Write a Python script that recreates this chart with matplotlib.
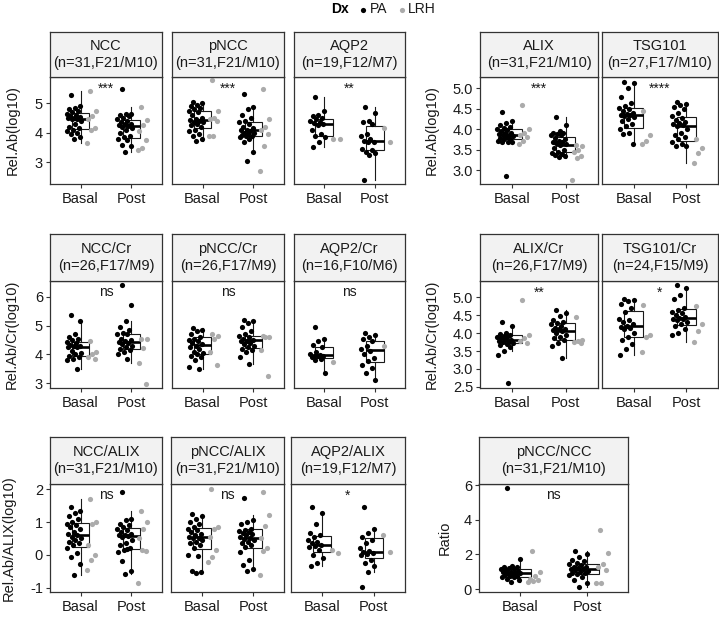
import matplotlib
matplotlib.use("Agg")
import matplotlib.pyplot as plt
from matplotlib.ticker import FormatStrFormatter

plt.rcParams['font.family'] = ['Liberation Sans', 'DejaVu Sans']

# ---- values: (Basal PA, Basal LRH, Post PA, Post LRH) ----
ncc_b_pa = [5.28, 4.9, 4.85, 4.8, 4.75, 4.7, 4.65, 4.6, 4.55, 4.52, 4.5, 4.5, 4.48, 4.45, 4.4, 4.3, 4.2, 4.15, 4.1, 4.05, 4.0, 3.95, 3.85, 3.8]
ncc_b_lrh = [5.42, 4.75, 4.55, 4.45, 4.15, 4.1, 3.65]
ncc_p_pa = [5.48, 4.65, 4.62, 4.6, 4.55, 4.5, 4.45, 4.4, 4.35, 4.3, 4.28, 4.25, 4.22, 4.2, 4.15, 4.1, 4.0, 3.9, 3.85, 3.8, 3.75, 3.6, 3.55, 3.33]
ncc_p_lrh = [4.88, 4.42, 4.25, 4.05, 3.75, 3.48, 3.43]

pncc_b_pa = [5.05, 5.02, 4.95, 4.9, 4.85, 4.8, 4.75, 4.7, 4.6, 4.5, 4.45, 4.42, 4.4, 4.38, 4.35, 4.3, 4.25, 4.2, 4.1, 4.05, 3.95, 3.9, 3.8, 3.72]
pncc_b_lrh = [5.78, 4.75, 4.5, 4.45, 4.4, 3.9, 3.88]
pncc_p_pa = [5.3, 4.88, 4.82, 4.6, 4.5, 4.4, 4.35, 4.3, 4.2, 4.15, 4.1, 4.08, 4.05, 4.0, 3.98, 3.95, 3.92, 3.9, 3.88, 3.85, 3.8, 3.7, 3.33, 3.05]
pncc_p_lrh = [5.48, 4.48, 4.2, 4.1, 3.95, 3.55, 2.7]

aqp2_b_pa = [5.22, 4.72, 4.6, 4.55, 4.5, 4.45, 4.4, 4.35, 4.32, 4.3, 4.25, 4.1, 3.95, 3.9, 3.85, 3.7, 3.53]
aqp2_b_lrh = [3.8, 3.78]
aqp2_p_pa = [4.86, 4.66, 4.41, 4.35, 4.3, 3.95, 3.9, 3.8, 3.72, 3.7, 3.68, 3.45, 3.4, 3.35, 3.3, 3.25, 2.4]
aqp2_p_lrh = [4.17, 3.7]

alix_b_pa = [4.43, 4.2, 4.15, 4.1, 4.05, 4.02, 4.0, 3.98, 3.95, 3.92, 3.9, 3.88, 3.87, 3.85, 3.83, 3.8, 3.78, 3.76, 3.75, 3.72, 3.7, 3.7, 3.68, 2.86]
alix_b_lrh = [4.6, 4.0, 3.92, 3.85, 3.8, 3.72, 3.65]
alix_p_pa = [4.3, 4.1, 3.95, 3.9, 3.9, 3.88, 3.87, 3.86, 3.78, 3.75, 3.72, 3.7, 3.68, 3.66, 3.65, 3.62, 3.55, 3.5, 3.45, 3.42, 3.4, 3.38, 3.35, 3.32]
alix_p_lrh = [3.62, 3.58, 3.5, 3.45, 3.35, 3.3, 2.76]

tsg_b_pa = [5.16, 5.14, 5.02, 4.8, 4.65, 4.58, 4.52, 4.5, 4.45, 4.4, 4.38, 4.36, 4.35, 4.33, 4.3, 4.25, 4.2, 4.12, 4.08, 4.0, 3.92, 3.88, 3.63]
tsg_b_lrh = [4.45, 3.85, 3.72, 3.65]
tsg_p_pa = [4.67, 4.63, 4.6, 4.55, 4.5, 4.4, 4.32, 4.28, 4.22, 4.18, 4.15, 4.12, 4.1, 4.08, 4.0, 3.92, 3.85, 3.8, 3.75, 3.7, 3.65, 3.6, 3.58]
tsg_p_lrh = [3.75, 3.55, 3.42, 3.18]

nccc_b_pa = [5.36, 5.15, 4.7, 4.6, 4.55, 4.5, 4.42, 4.38, 4.32, 4.28, 4.28, 4.26, 4.25, 4.12, 4.05, 4.0, 3.95, 3.9, 3.85, 3.8, 3.48]
nccc_b_lrh = [4.45, 4.1, 4.02, 3.9, 3.85]
nccc_p_pa = [6.4, 5.7, 5.15, 4.95, 4.85, 4.75, 4.72, 4.7, 4.55, 4.5, 4.45, 4.42, 4.4, 4.35, 4.3, 4.25, 4.2, 4.15, 4.1, 4.0, 3.85]
nccc_p_lrh = [4.55, 4.52, 4.22, 3.7, 2.97]

pnccc_b_pa = [4.9, 4.85, 4.8, 4.7, 4.6, 4.55, 4.5, 4.45, 4.4, 4.35, 4.3, 4.25, 4.2, 4.1, 4.05, 4.0, 3.95, 3.9, 3.8, 3.55, 3.5]
pnccc_b_lrh = [4.7, 4.65, 4.55, 4.1, 3.65]
pnccc_p_pa = [5.2, 5.15, 5.1, 4.95, 4.8, 4.7, 4.65, 4.6, 4.55, 4.5, 4.48, 4.45, 4.4, 4.35, 4.3, 4.25, 4.2, 4.15, 4.1, 3.9, 3.68]
pnccc_p_lrh = [4.65, 4.62, 4.6, 4.15, 3.25]

aqp2c_b_pa = [4.96, 4.52, 4.48, 4.32, 4.25, 4.1, 4.02, 3.98, 3.96, 3.95, 3.93, 3.9, 3.86, 3.82, 3.35]
aqp2c_b_lrh = [3.75]
aqp2c_p_pa = [4.75, 4.68, 4.6, 4.52, 4.45, 4.3, 4.2, 4.12, 4.02, 3.88, 3.78, 3.65, 3.52, 3.35, 3.1]
aqp2c_p_lrh = [4.29]

alixc_b_pa = [4.3, 4.2, 4.0, 3.98, 3.95, 3.92, 3.9, 3.88, 3.85, 3.82, 3.8, 3.78, 3.76, 3.74, 3.72, 3.7, 3.68, 3.6, 3.5, 3.38, 2.6]
alixc_b_lrh = [4.93, 3.95, 3.85, 3.78, 3.72]
alixc_p_pa = [4.65, 4.55, 4.48, 4.35, 4.3, 4.28, 4.25, 4.2, 4.15, 4.12, 4.1, 4.08, 4.05, 4.0, 3.95, 3.9, 3.85, 3.8, 3.72, 3.65, 3.3]
alixc_p_lrh = [4.45, 3.82, 3.78, 3.75, 3.72]

tsgc_b_pa = [4.95, 4.93, 4.9, 4.8, 4.7, 4.6, 4.4, 4.35, 4.3, 4.25, 4.2, 4.18, 4.15, 4.1, 4.0, 3.9, 3.8, 3.7, 3.55, 3.38]
tsgc_b_lrh = [4.78, 3.95, 3.88, 3.48]
tsgc_p_pa = [5.35, 5.25, 5.05, 4.95, 4.7, 4.65, 4.6, 4.55, 4.5, 4.45, 4.42, 4.4, 4.38, 4.35, 4.3, 4.25, 4.2, 4.1, 4.0, 3.95]
tsgc_p_lrh = [4.75, 4.25, 4.05, 3.75]

ncca_b_pa = [1.45, 1.35, 1.28, 1.2, 1.1, 1.0, 0.95, 0.9, 0.85, 0.8, 0.7, 0.65, 0.6, 0.55, 0.5, 0.45, 0.4, 0.35, 0.3, 0.2, 0.05, -0.05, -0.28, -0.62]
ncca_b_lrh = [1.7, 1.0, 0.95, 0.3, 0.0, -0.15, -0.47]
ncca_p_pa = [1.92, 1.1, 1.05, 0.95, 0.9, 0.85, 0.8, 0.75, 0.7, 0.65, 0.62, 0.6, 0.58, 0.55, 0.45, 0.35, 0.3, 0.2, 0.15, 0.1, 0.18, -0.2, -0.5, -0.57]
ncca_p_lrh = [1.35, 1.0, 0.78, 0.5, 0.12, 0.15, -0.85]

pncca_b_pa = [1.25, 1.2, 1.1, 1.0, 0.95, 0.85, 0.8, 0.75, 0.7, 0.65, 0.6, 0.55, 0.52, 0.5, 0.45, 0.4, 0.35, 0.3, 0.2, 0.0, -0.02, -0.48, -0.52, -0.55]
pncca_b_lrh = [2.02, 0.85, 0.8, 0.55, 0.15, -0.05, -0.22]
pncca_p_pa = [1.72, 1.05, 1.0, 0.95, 0.8, 0.75, 0.72, 0.7, 0.68, 0.65, 0.6, 0.55, 0.5, 0.48, 0.45, 0.4, 0.35, 0.3, 0.25, 0.1, -0.15, -0.3, -0.42, -0.5]
pncca_p_lrh = [1.92, 1.22, 0.88, 0.5, 0.2, 0.12, -0.62]

aqp2a_b_pa = [1.45, 1.27, 0.95, 0.68, 0.6, 0.55, 0.45, 0.4, 0.35, 0.3, 0.28, 0.25, 0.15, 0.0, -0.1, -0.25, -0.35]
aqp2a_b_lrh = [0.15, 0.05]
aqp2a_p_pa = [1.45, 0.78, 0.66, 0.55, 0.45, 0.35, 0.2, 0.13, 0.1, 0.07, 0.03, 0.0, -0.16, -0.25, -0.34, -0.51, -0.97]
aqp2a_p_lrh = [0.6, 0.08]

ratio_b_pa = [5.85, 1.75, 1.35, 1.3, 1.25, 1.2, 1.18, 1.15, 1.1, 1.05, 1.0, 0.98, 0.95, 0.93, 0.9, 0.85, 0.8, 0.78, 0.75, 0.72, 0.7, 0.6, 0.5, 0.42]
ratio_b_lrh = [2.2, 1.0, 0.75, 0.6, 0.5, 0.45, 0.42]
ratio_p_pa = [2.2, 2.05, 1.85, 1.7, 1.6, 1.5, 1.45, 1.4, 1.3, 1.25, 1.2, 1.18, 1.15, 1.1, 1.05, 1.0, 0.95, 0.9, 0.85, 0.8, 0.7, 0.55, 0.35, 0.12]
ratio_p_lrh = [3.4, 2.1, 1.45, 1.3, 1.1, 0.35, 0.35]

# ---- layout (pixels) ----
W, H = 719, 618
fig = plt.figure(figsize=(W / 100, H / 100), dpi=100)

DARK = '#333333'
GREY = '#ababab'
PT = 14


def px_axes(x0, y0, x1, y1):
    return fig.add_axes([x0 / W, 1 - y1 / H, (x1 - x0) / W, (y1 - y0) / H])


def spread(n, c, h):
    # deterministic horizontal jitter
    return [c + h * (2 * ((i * 0.618034 + 0.31) % 1) - 1) for i in range(n)]


def draw_panel(x0, x1, row, title, data, sig, show_y, ylim, yticks, fmt):
    top, mid, bot = row
    ax = px_axes(x0, mid, x1, bot)
    st = px_axes(x0, top, x1, mid)

    b_pa, b_lrh, p_pa, p_lrh = data
    ax.boxplot([b_pa + b_lrh, p_pa + p_lrh], positions=[1, 2], widths=0.35,
               showfliers=False, showcaps=False, patch_artist=True,
               medianprops=dict(color='black', linewidth=1.9),
               boxprops=dict(facecolor='white', edgecolor='#1a1a1a', linewidth=0.8),
               whiskerprops=dict(color='#1a1a1a', linewidth=0.8), zorder=2)
    for pos, pa, lrh in [(1, b_pa, b_lrh), (2, p_pa, p_lrh)]:
        ax.scatter([pos + d for d in spread(len(pa), -0.13, 0.15)], pa, s=PT,
                   color='black', linewidths=0, zorder=3)
        ax.scatter([pos + d for d in spread(len(lrh), 0.22, 0.10)], lrh, s=PT,
                   color=GREY, linewidths=0, zorder=3)

    ax.set_xlim(0.4, 2.6)
    ax.set_ylim(*ylim)
    ax.set_xticks([1, 2])
    ax.set_xticklabels(['Basal', 'Post'], fontsize=10.5, color='#1a1a1a')
    ax.set_yticks(yticks)
    ax.yaxis.set_major_formatter(FormatStrFormatter(fmt))
    ax.tick_params(axis='x', length=3, width=0.8, color=DARK, pad=3)
    ax.tick_params(axis='y', length=3, width=0.8, color=DARK, pad=2,
                   labelsize=10.5, labelcolor='#1a1a1a')
    if not show_y:
        ax.tick_params(axis='y', left=False, labelleft=False)
    for s in ax.spines.values():
        s.set_color(DARK)
        s.set_linewidth(0.9)

    ax.text(1.5, 0.86 if sig == 'ns' else 0.855, sig,
            transform=ax.get_xaxis_transform(), ha='center', va='baseline',
            fontsize=10, color='#1a1a1a')

    st.set_facecolor('#f2f2f2')
    st.set_xticks([])
    st.set_yticks([])
    for s in st.spines.values():
        s.set_color(DARK)
        s.set_linewidth(0.9)
    st.text(0.5, 0.5, title, ha='center', va='center', fontsize=10.5,
            color='#1a1a1a', linespacing=1.25, transform=st.transAxes)


rows = [(32, 77, 184), (234, 281, 388), (437, 484, 592)]
left_cols = [(50, 162), (172, 284), (294, 405)]
left_cols3 = [(50, 162), (171, 284), (291, 405)]
right_cols = [(480, 598), (602, 718)]

panels = [
    # row 0
    (left_cols[0], 0, 'NCC\n(n=31,F21/M10)', (ncc_b_pa, ncc_b_lrh, ncc_p_pa, ncc_p_lrh), '***', True, (2.26, 5.89), [3, 4, 5], '%d'),
    (left_cols[1], 0, 'pNCC\n(n=31,F21/M10)', (pncc_b_pa, pncc_b_lrh, pncc_p_pa, pncc_p_lrh), '***', False, (2.26, 5.89), [3, 4, 5], '%d'),
    (left_cols[2], 0, 'AQP2\n(n=19,F12/M7)', (aqp2_b_pa, aqp2_b_lrh, aqp2_p_pa, aqp2_p_lrh), '**', False, (2.26, 5.89), [3, 4, 5], '%d'),
    (right_cols[0], 0, 'ALIX\n(n=31,F21/M10)', (alix_b_pa, alix_b_lrh, alix_p_pa, alix_p_lrh), '***', True, (2.66, 5.28), [3.0, 3.5, 4.0, 4.5, 5.0], '%.1f'),
    (right_cols[1], 0, 'TSG101\n(n=27,F17/M10)', (tsg_b_pa, tsg_b_lrh, tsg_p_pa, tsg_p_lrh), '****', False, (2.66, 5.28), [3.0, 3.5, 4.0, 4.5, 5.0], '%.1f'),
    # row 1
    (left_cols[0], 1, 'NCC/Cr\n(n=26,F17/M9)', (nccc_b_pa, nccc_b_lrh, nccc_p_pa, nccc_p_lrh), 'ns', True, (2.84, 6.54), [3, 4, 5, 6], '%d'),
    (left_cols[1], 1, 'pNCC/Cr\n(n=26,F17/M9)', (pnccc_b_pa, pnccc_b_lrh, pnccc_p_pa, pnccc_p_lrh), 'ns', False, (2.84, 6.54), [3, 4, 5, 6], '%d'),
    (left_cols[2], 1, 'AQP2/Cr\n(n=16,F10/M6)', (aqp2c_b_pa, aqp2c_b_lrh, aqp2c_p_pa, aqp2c_p_lrh), 'ns', False, (2.84, 6.54), [3, 4, 5, 6], '%d'),
    (right_cols[0], 1, 'ALIX/Cr\n(n=26,F17/M9)', (alixc_b_pa, alixc_b_lrh, alixc_p_pa, alixc_p_lrh), '**', True, (2.47, 5.45), [2.5, 3.0, 3.5, 4.0, 4.5, 5.0], '%.1f'),
    (right_cols[1], 1, 'TSG101/Cr\n(n=24,F15/M9)', (tsgc_b_pa, tsgc_b_lrh, tsgc_p_pa, tsgc_p_lrh), '*', False, (2.47, 5.45), [2.5, 3.0, 3.5, 4.0, 4.5, 5.0], '%.1f'),
    # row 2
    (left_cols3[0], 2, 'NCC/ALIX\n(n=31,F21/M10)', (ncca_b_pa, ncca_b_lrh, ncca_p_pa, ncca_p_lrh), 'ns', True, (-1.13, 2.16), [-1, 0, 1, 2], '%d'),
    (left_cols3[1], 2, 'pNCC/ALIX\n(n=31,F21/M10)', (pncca_b_pa, pncca_b_lrh, pncca_p_pa, pncca_p_lrh), 'ns', False, (-1.13, 2.16), [-1, 0, 1, 2], '%d'),
    (left_cols3[2], 2, 'AQP2/ALIX\n(n=19,F12/M7)', (aqp2a_b_pa, aqp2a_b_lrh, aqp2a_p_pa, aqp2a_p_lrh), '*', False, (-1.13, 2.16), [-1, 0, 1, 2], '%d'),
    ((479, 628), 2, 'pNCC/NCC\n(n=31,F21/M10)', (ratio_b_pa, ratio_b_lrh, ratio_p_pa, ratio_p_lrh), 'ns', True, (-0.17, 6.07), [0, 2, 4, 6], '%d'),
]

for (x0, x1), r, title, data, sig, show_y, ylim, yticks, fmt in panels:
    draw_panel(x0, x1, rows[r], title, data, sig, show_y, ylim, yticks, fmt)

# y axis titles
ylabels = [
    (13, 0, 'Rel.Ab(log10)'), (432, 0, 'Rel.Ab(log10)'),
    (12, 1, 'Rel.Ab/Cr(log10)'), (432, 1, 'Rel.Ab/Cr(log10)'),
    (9, 2, 'Rel.Ab/ALIX(log10)'), (445, 2, 'Ratio'),
]
for x, r, lab in ylabels:
    yc = (rows[r][1] + rows[r][2]) / 2
    fig.text(x / W, 1 - yc / H, lab, rotation=90, ha='center', va='center',
             fontsize=10.5, color='#1a1a1a')

# legend on top
ov = fig.add_axes([0, 0, 1, 1])
ov.set_xlim(0, W)
ov.set_ylim(H, 0)
ov.axis('off')
ov.text(340, 9, 'Dx', fontsize=10, fontweight='bold', ha='center', va='center')
ov.scatter([363], [9.5], s=PT, color='black', linewidths=0)
ov.text(370, 9, 'PA', fontsize=10, ha='left', va='center', color='#1a1a1a')
ov.scatter([402], [9.5], s=PT, color=GREY, linewidths=0)
ov.text(408, 9, 'LRH', fontsize=10, ha='left', va='center', color='#1a1a1a')

fig.savefig('out.png', dpi=100)
